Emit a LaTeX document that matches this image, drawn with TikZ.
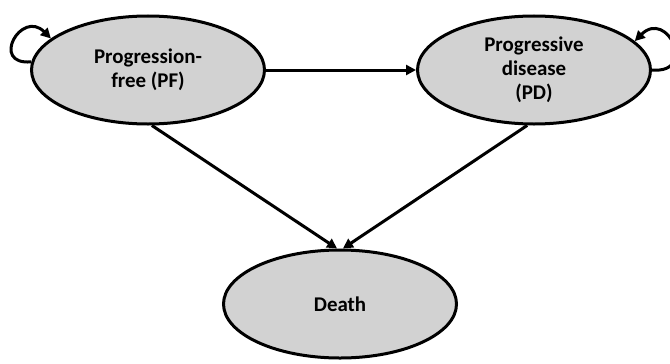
\documentclass[tikz,border=0pt]{standalone}
\usepackage{fontspec}
\setmainfont{Carlito}
\usetikzlibrary{shapes.geometric,arrows.meta}
\definecolor{stategray}{RGB}{210,210,210}
\tikzset{
  state/.style={ellipse,draw,line width=3bp,fill=stategray,minimum width=233bp,
    minimum height=108bp,inner sep=0pt,align=center,
    font=\fontsize{21}{24}\selectfont\bfseries},
  link/.style={line width=3bp,-{Triangle[length=10bp,width=10bp]}}
}
\begin{document}
\begin{tikzpicture}[x=1bp,y=1bp]
    \useasboundingbox (0,0) rectangle (670,363);
    \node[state] (pf) at (148,293) {Progression-\\free (PF)};
    \node[state] (pd) at (534,293) {Progressive\\disease\\(PD)};
    \node[state] (death) at (340,59) {Death};
    \draw[link] (pf) to (pd);
    \draw[link] (pf.-86) to (death.93);
    \draw[link] (pd.263) to (death.87);
    \draw[link] (pf.176) to[out=185,in=135,looseness=3.5] (pf.162);
    \draw[link] (pd.0) to[out=-5,in=45,looseness=3.5] (pd.16);
  \end{tikzpicture}
\end{document}
